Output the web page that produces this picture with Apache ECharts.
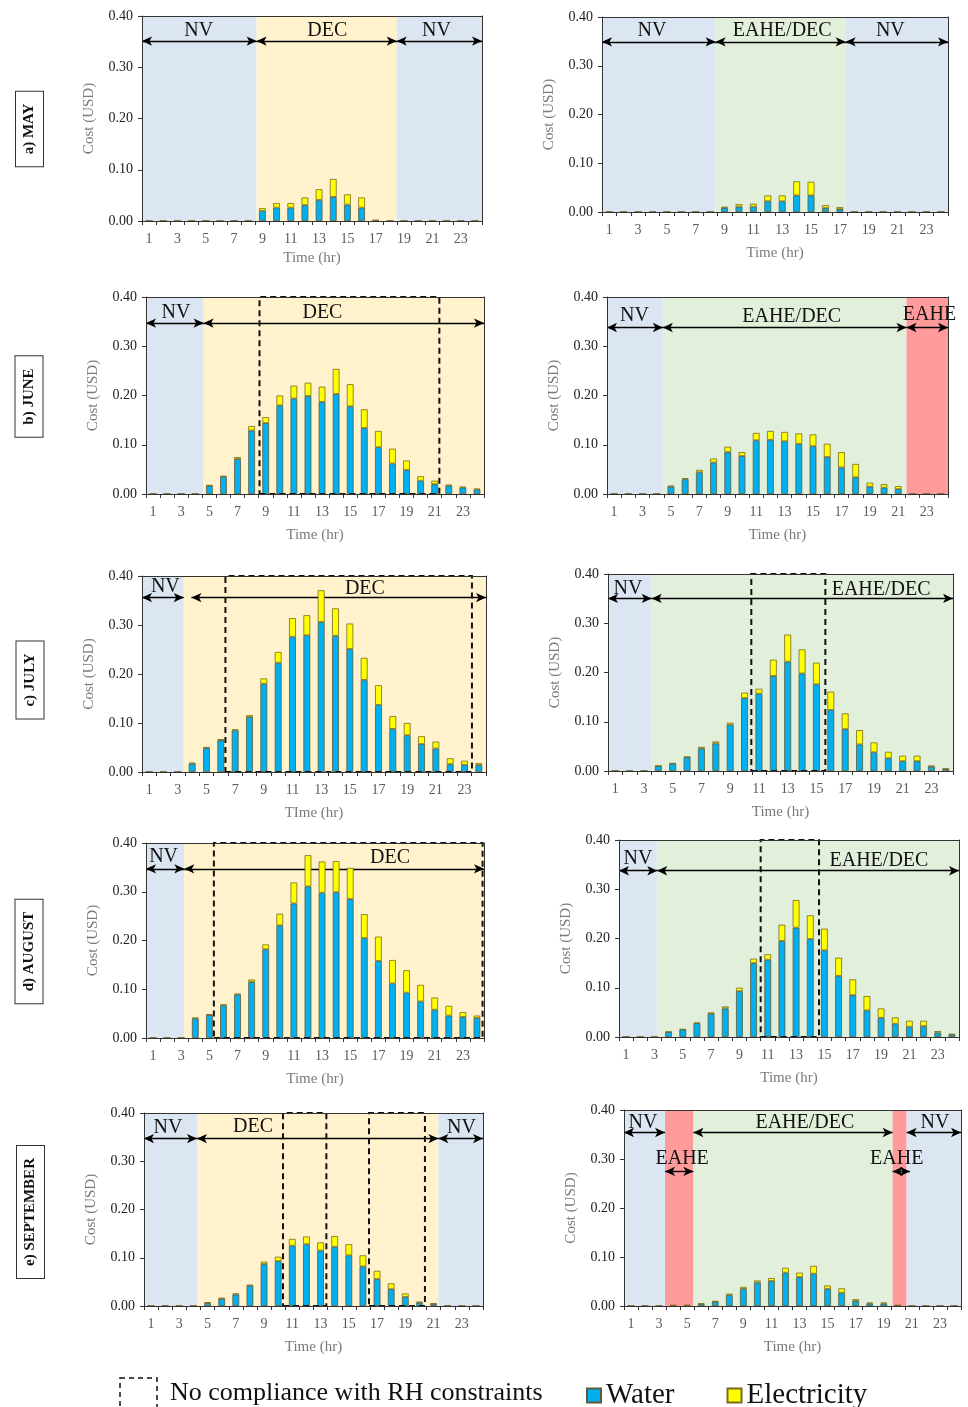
<!DOCTYPE html>
<html><head><meta charset="utf-8">
<script src="https://cdn.jsdelivr.net/npm/echarts@6/dist/echarts.min.js"></script>
<style>html,body{margin:0;padding:0;background:#fff}#c{width:968px;height:1407px}</style>
</head><body><div id="c"></div>
<script>
// ---- tick labels / categories ----
const hours = ['1','2','3','4','5','6','7','8','9','10','11','12','13','14','15','16','17','18','19','20','21','22','23','24'];

// ---- series values (USD), hour 1..24 ----
const mayDecWater  = [0,0,0,0,0,0,0,0,0.020,0.026,0.026,0.031,0.041,0.047,0.032,0.026,0.001,0,0,0,0,0,0,0];
const mayDecElec   = [0,0,0,0,0,0,0,0,0.005,0.009,0.009,0.015,0.021,0.035,0.020,0.020,0.001,0,0,0,0,0,0,0];
const mayEaheWater = [0,0,0,0,0,0,0,0,0.008,0.011,0.011,0.022,0.022,0.034,0.034,0.008,0.006,0,0,0,0,0,0,0];
const mayEaheElec  = [0,0,0,0,0,0,0,0,0.003,0.005,0.006,0.012,0.012,0.029,0.028,0.006,0.004,0,0,0,0,0,0,0];

const junDecWater  = [0,0,0,0,0.017,0.035,0.071,0.129,0.144,0.180,0.194,0.199,0.187,0.203,0.178,0.134,0.095,0.062,0.049,0.027,0.020,0.017,0.013,0.009];
const junDecElec   = [0,0,0,0,0.001,0.002,0.004,0.009,0.012,0.020,0.026,0.027,0.031,0.051,0.045,0.038,0.033,0.030,0.019,0.009,0.007,0.002,0.002,0.002];
const junEaheWater = [0,0,0,0,0.015,0.030,0.044,0.064,0.085,0.077,0.109,0.110,0.107,0.102,0.097,0.075,0.054,0.034,0.015,0.013,0.010,0,0,0];
const junEaheElec  = [0,0,0,0,0.002,0.002,0.005,0.008,0.011,0.008,0.015,0.018,0.019,0.021,0.024,0.027,0.031,0.027,0.008,0.007,0.006,0,0,0];

const julDecWater  = [0,0,0,0.017,0.049,0.065,0.085,0.112,0.180,0.223,0.276,0.279,0.306,0.278,0.251,0.188,0.137,0.088,0.075,0.057,0.048,0.016,0.015,0.014];
const julDecElec   = [0,0,0,0.002,0.002,0.002,0.002,0.004,0.011,0.022,0.038,0.041,0.065,0.056,0.052,0.045,0.040,0.026,0.025,0.016,0.014,0.012,0.008,0.004];
const julEaheWater = [0,0,0,0.010,0.015,0.028,0.046,0.056,0.094,0.148,0.157,0.193,0.222,0.198,0.176,0.124,0.085,0.054,0.038,0.026,0.020,0.020,0.009,0.004];
const julEaheElec  = [0,0,0,0.001,0.001,0.001,0.003,0.004,0.004,0.011,0.010,0.033,0.055,0.049,0.044,0.037,0.032,0.029,0.020,0.013,0.011,0.011,0.002,0.001];

const augDecWater  = [0,0,0,0.040,0.047,0.067,0.089,0.115,0.182,0.231,0.276,0.311,0.298,0.299,0.285,0.205,0.158,0.112,0.093,0.075,0.058,0.046,0.043,0.041];
const augDecElec   = [0,0,0,0.002,0.002,0.002,0.002,0.005,0.010,0.024,0.043,0.064,0.064,0.064,0.064,0.049,0.050,0.048,0.046,0.034,0.025,0.020,0.010,0.005];
const augEaheWater = [0,0,0,0.010,0.015,0.028,0.047,0.058,0.093,0.150,0.157,0.195,0.222,0.199,0.176,0.124,0.085,0.054,0.039,0.027,0.021,0.022,0.009,0.005];
const augEaheElec  = [0,0,0,0.001,0.001,0.001,0.003,0.004,0.007,0.009,0.011,0.033,0.056,0.048,0.044,0.037,0.032,0.029,0.019,0.013,0.012,0.011,0.003,0.001];

const sepDecWater  = [0,0,0,0,0.006,0.015,0.024,0.042,0.087,0.093,0.125,0.128,0.115,0.123,0.105,0.082,0.056,0.035,0.019,0.007,0.004,0,0,0];
const sepDecElec   = [0,0,0,0,0.002,0.002,0.002,0.002,0.005,0.009,0.014,0.016,0.017,0.022,0.023,0.023,0.017,0.012,0.007,0.002,0.002,0,0,0];
const sepEaheWater = [0,0,0,0.001,0.001,0.004,0.009,0.022,0.035,0.048,0.051,0.068,0.059,0.066,0.035,0.027,0.010,0.005,0.005,0.001,0,0,0,0];
const sepEaheElec  = [0,0,0,0.001,0.001,0.0015,0.001,0.003,0.004,0.004,0.006,0.010,0.009,0.016,0.007,0.009,0.004,0.002,0.002,0.001,0,0,0,0];

// ---- annotation spans (hour coordinates) ----
const mayDecModes  = [[0.5,8.59,'nv'],[8.59,18.48,'dec'],[18.48,24.5,'nv']];
const mayEaheModes = [[0.5,8.38,'nv'],[8.38,17.4,'eahedec'],[17.4,24.5,'nv']];
const junDecModes  = [[0.5,4.59,'nv'],[4.59,24.5,'dec']];
const junEaheModes = [[0.5,4.43,'nv'],[4.43,21.58,'eahedec'],[21.58,24.5,'eahe']];
const julDecModes  = [[0.5,3.41,'nv'],[3.41,24.5,'dec']];
const julEaheModes = [[0.5,3.54,'nv'],[3.54,24.5,'eahedec']];
const augDecModes  = [[0.5,3.22,'nv'],[3.22,24.5,'dec']];
const augEaheModes = [[0.5,3.2,'nv'],[3.2,24.5,'eahedec']];
const sepDecModes  = [[0.5,4.25,'nv'],[4.25,21.34,'dec'],[21.34,24.5,'nv']];
const sepEaheModes = [[0.5,3.42,'nv'],[3.42,5.44,'eahe'],[5.44,19.63,'eahedec'],[19.63,20.63,'eahe'],[20.63,24.5,'nv']];

const FONT = '"Liberation Serif", "Times New Roman", serif';
const FILL = {nv:'#DCE6F2', dec:'#FFF2CC', eahedec:'#E2EFDA', eahe:'#FF9B9B'};

const panels = [
 {grid:{left:142,top:16,width:340,height:205}, water:mayDecWater, elec:mayDecElec, modes:mayDecModes, xGap:28,
  arrows:[[0.5,8.59,0.351],[8.59,18.48,0.351],[18.48,24.5,0.351]],
  labels:[['NV',4.5,0.372],['DEC',13.58,0.372],['NV',21.28,0.372]], boxes:[]},
 {grid:{left:602,top:17,width:346,height:195}, water:mayEaheWater, elec:mayEaheElec, modes:mayEaheModes, xGap:32,
  arrows:[[0.5,8.38,0.349],[8.38,17.4,0.349],[17.4,24.5,0.349]],
  labels:[['NV',3.97,0.372],['EAHE/DEC',13.0,0.372],['NV',20.5,0.372]], boxes:[]},
 {grid:{left:146,top:297,width:338,height:197}, water:junDecWater, elec:junDecElec, modes:junDecModes, xGap:32,
  arrows:[[0.5,4.59,0.347],[4.59,24.5,0.347]],
  labels:[['NV',2.63,0.368],['DEC',13.03,0.368]], boxes:[[8.56,21.33]]},
 {grid:{left:607,top:297,width:341,height:197}, water:junEaheWater, elec:junEaheElec, modes:junEaheModes, xGap:32,
  arrows:[[0.5,4.43,0.338],[4.43,21.58,0.338],[21.58,24.5,0.338]],
  labels:[['NV',2.44,0.362],['EAHE/DEC',13.5,0.359],['EAHE',23.2,0.364]], boxes:[]},
 {grid:{left:142,top:576,width:344,height:196}, water:julDecWater, elec:julDecElec, modes:julDecModes, xGap:32, xName:'TIme (hr)',
  arrows:[[0.5,3.41,0.356],[3.95,24.5,0.356]],
  labels:[['NV',2.13,0.378],['DEC',16.05,0.373]], boxes:[[6.32,23.52]]},
 {grid:{left:608,top:574,width:345,height:197}, water:julEaheWater, elec:julEaheElec, modes:julEaheModes, xGap:32,
  arrows:[[0.5,3.54,0.3505],[3.54,24.5,0.3505]],
  labels:[['NV',1.89,0.371],['EAHE/DEC',19.5,0.368]], boxes:[[10.47,15.62]]},
 {grid:{left:146,top:843,width:338,height:195}, water:augDecWater, elec:augDecElec, modes:augDecModes, xGap:32,
  arrows:[[0.5,3.22,0.347],[3.22,24.5,0.347]],
  labels:[['NV',1.75,0.371],['DEC',17.83,0.369]], boxes:[[5.32,24.4]]},
 {grid:{left:619,top:840,width:340,height:197}, water:augEaheWater, elec:augEaheElec, modes:augEaheModes, xGap:32,
  arrows:[[0.5,3.2,0.3376],[3.2,24.5,0.3376]],
  labels:[['NV',1.84,0.361],['EAHE/DEC',18.85,0.357]], boxes:[[10.5,14.62]]},
 {grid:{left:144,top:1113,width:339,height:193}, water:sepDecWater, elec:sepDecElec, modes:sepDecModes, xGap:32,
  arrows:[[0.5,4.25,0.347],[4.25,21.34,0.347],[21.34,24.5,0.347]],
  labels:[['NV',2.2,0.369],['DEC',8.22,0.371],['NV',22.97,0.369]], boxes:[[10.34,13.41],[16.43,20.39]]},
 {grid:{left:624,top:1110,width:337,height:196}, water:sepEaheWater, elec:sepEaheElec, modes:sepEaheModes, xGap:32,
  arrows:[[0.5,3.42,0.354],[5.44,19.63,0.354],[20.63,24.5,0.354],[3.42,5.44,0.2746],[19.63,20.87,0.2746]],
  labels:[['NV',1.85,0.374],['EAHE/DEC',13.38,0.374],['NV',22.65,0.374],['EAHE',4.64,0.301],['EAHE',19.92,0.301]], boxes:[]}
];

const rowLabels = [['a) MAY',29.5,129],['b) JUNE',29,396.5],['c) JULY',30,680],['d) AUGUST',29,951.5],['e) SEPTEMBER',30.5,1212]];

const AX = '#333';
const grids=[], xAxes=[], yAxes=[], series=[];
panels.forEach((p,i)=>{
  grids.push(Object.assign({containLabel:false, outerBoundsMode:'none', show:false}, p.grid));
  xAxes.push({type:'category', gridIndex:i, data:hours, boundaryGap:true,
    name:p.xName||'Time (hr)', nameLocation:'middle', nameGap:p.xGap+2,
    nameTextStyle:{fontFamily:FONT,fontSize:15,color:'#7a7a7a'},
    axisLine:{show:true,lineStyle:{color:AX,width:1}},
    axisTick:{show:true,interval:0,length:4,lineStyle:{color:AX}},
    axisLabel:{interval:1,fontFamily:FONT,fontSize:14,color:'#5a5a5a',margin:11},
    splitLine:{show:false}, z:10});
  xAxes.push({type:'value', gridIndex:i, min:0.5, max:24.5, position:'top',
    axisLine:{show:true,onZero:false,lineStyle:{color:AX,width:1}},
    axisTick:{show:false}, axisLabel:{show:false}, splitLine:{show:false}, z:10});
  yAxes.push({type:'value', gridIndex:i, min:0, max:0.4, interval:0.1,
    name:'Cost (USD)', nameLocation:'middle', nameGap:45,
    nameTextStyle:{fontFamily:FONT,fontSize:15,color:'#7a7a7a'},
    axisLine:{show:true,lineStyle:{color:AX,width:1}},
    axisTick:{show:true,length:4,lineStyle:{color:AX}},
    axisLabel:{formatter:v=>v.toFixed(2),fontFamily:FONT,fontSize:14,color:'#222',margin:9},
    splitLine:{show:false}, z:10});
  yAxes.push({type:'value', gridIndex:i, min:0, max:0.4, position:'right',
    axisLine:{show:true,onZero:false,lineStyle:{color:AX,width:1}},
    axisTick:{show:false}, axisLabel:{show:false}, splitLine:{show:false}, z:10});

  series.push({name:'Water', type:'bar', xAxisIndex:2*i, yAxisIndex:2*i, stack:'s'+i, data:p.water,
    barWidth:'48%', silent:true, z:2,
    itemStyle:{color:'#00B0F0', borderColor:'#5c5a3a', borderWidth:0.8}});
  series.push({name:'Electricity', type:'bar', xAxisIndex:2*i, yAxisIndex:2*i, stack:'s'+i, data:p.elec,
    barWidth:'48%', silent:true, z:2,
    itemStyle:{color:'#FFFF00', borderColor:'#7a6a20', borderWidth:0.8}});
  series.push({type:'line', xAxisIndex:2*i+1, yAxisIndex:2*i, data:[], silent:true, z:1,
    markArea:{silent:true, z:0,
      data:p.modes.map(m=>[{coord:[m[0],0], itemStyle:{color:FILL[m[2]], borderWidth:0}},{coord:[m[1],0.4]}])},
    markLine:{silent:true, z:1, symbol:['arrow','arrow'], symbolSize:[7,10], animation:false,
      lineStyle:{color:'#000',width:1.4,type:'solid'}, label:{show:false},
      emphasis:{disabled:true},
      data:p.arrows.map(a=>[{coord:[a[0],a[2]]},{coord:[a[1],a[2]]}])},
    markPoint:{silent:true, z:6, symbol:'circle', symbolSize:1, itemStyle:{color:'rgba(0,0,0,0)'},
      label:{show:true,position:'inside',formatter:'{b}',fontFamily:FONT,fontSize:20,color:'#111'},
      data:p.labels.map(l=>({name:l[0], coord:[l[1],l[2]]}))}
  });
  if (p.boxes.length) {
    series.push({type:'line', xAxisIndex:2*i+1, yAxisIndex:2*i, data:[], silent:true, z:4,
      markArea:{silent:true, z:4,
        itemStyle:{color:'rgba(0,0,0,0)', borderColor:'#111', borderWidth:2, borderType:[6,4]},
        data:p.boxes.map(b=>[{coord:[b[0],0]},{coord:[b[1],0.4]}])}});
  }
});

const graphic = [
  {type:'rect', shape:{x:120,y:1378,width:37,height:40}, style:{fill:'none',stroke:'#111',lineWidth:1.5,lineDash:[5,4]}},
  {type:'text', x:170, y:1393, style:{text:'No compliance with RH constraints', font:'26px '+FONT, fill:'#111', verticalAlign:'middle'}}
];
rowLabels.forEach(r=>{
  graphic.push({type:'text', x:r[1], y:r[2], rotation:Math.PI/2,
    style:{text:r[0], font:'bold 15px '+FONT, fill:'#111', align:'center', verticalAlign:'middle',
      borderColor:'#333', borderWidth:1, padding:[6,12], backgroundColor:'#fff'}});
});

const chart = echarts.init(document.getElementById('c'), null, {renderer:'canvas'});
chart.setOption({
  animation:false,
  backgroundColor:'#fff',
  grid:grids, xAxis:xAxes, yAxis:yAxes, series:series,
  legend:{data:['Water','Electricity'], left:581, top:1376, icon:'rect', itemWidth:14, itemHeight:14,
    itemGap:52, selectedMode:false, textStyle:{fontFamily:FONT,fontSize:29,color:'#111'}},
  graphic:graphic
});
</script></body></html>
